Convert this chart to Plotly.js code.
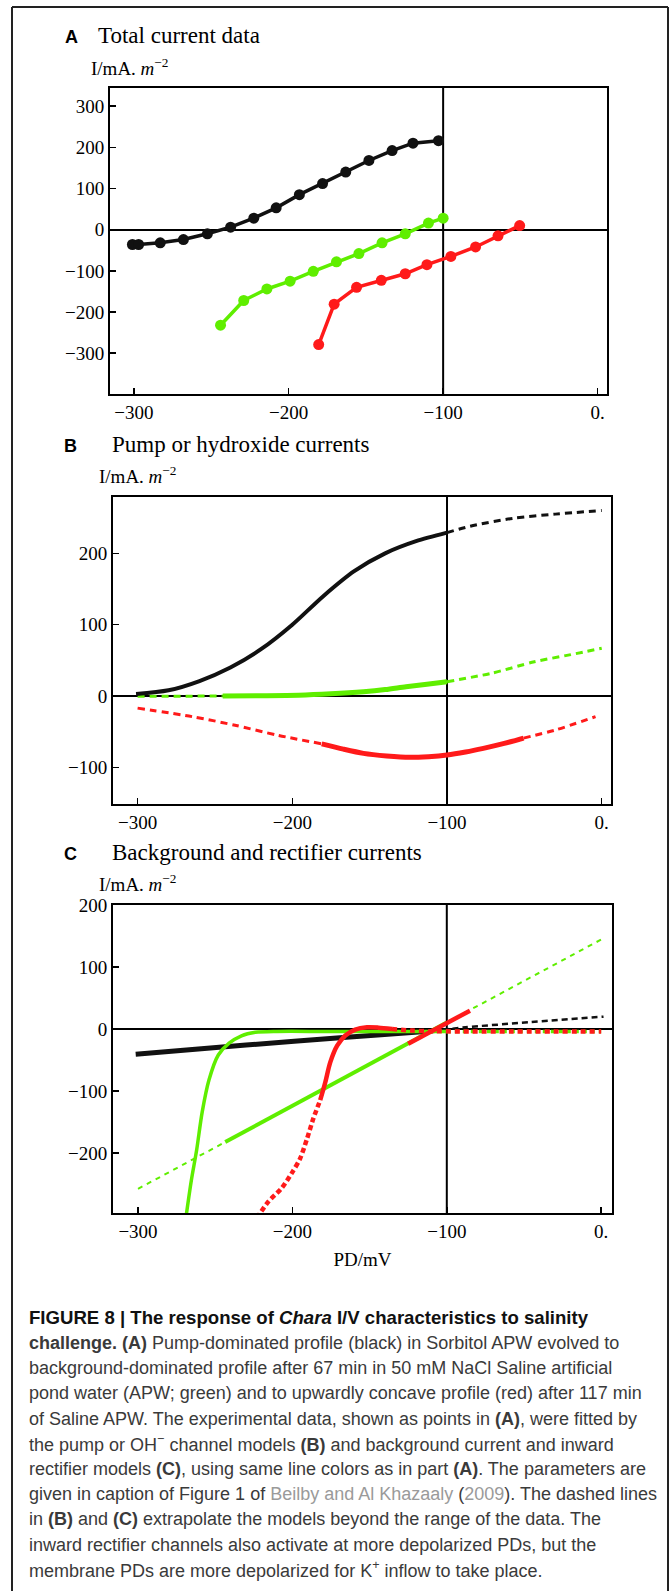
<!DOCTYPE html>
<html><head><meta charset="utf-8">
<script src="https://cdn.plot.ly/plotly-3.0.1.min.js"></script>
<style>html,body{margin:0;padding:0;background:#fff}</style>
</head><body><div id="chart" style="width:670px;height:1591px"></div>
<script>
// ---------------- data ----------------
const xTickVals = [-300, -200, -100, 0];
const xTickText = ['−300', '−200', '−100', '0.'];
const yTickValsA = [-300, -200, -100, 0, 100, 200, 300];
const yTickTextA = ['−300', '−200', '−100', '0', '100', '200', '300'];
const yTickValsB = [-100, 0, 100, 200];
const yTickTextB = ['−100', '0', '100', '200'];
const yTickValsC = [-200, -100, 0, 100, 200];
const yTickTextC = ['−200', '−100', '0', '100', '200'];
const refPD = -100;

// Panel A: total current data (PD in mV, I in mA m^-2)
const aBlackPD = [-301, -297, -283, -268, -252.5, -237.5, -222.5, -208, -193, -178, -163, -148, -133, -119.5, -103];
const aBlackI  = [-36, -36, -32, -24, -10, 6, 28, 53, 85, 112, 140, 168, 192, 210, 216];
const aGreenPD = [-244, -229, -214, -199, -184, -169, -154.5, -139.5, -124.5, -109.5, -100];
const aGreenI  = [-232, -172, -144, -125, -101, -78, -58, -32, -10, 16, 28];
const aRedPD   = [-180.5, -170.5, -156, -140, -124.5, -110.5, -95, -79, -64.5, -50.5];
const aRedI    = [-279, -181, -140, -123, -107, -85, -65, -42, -15, 10];

// Panel B: pump or hydroxide currents
const bBlackSolidPD = [-301, -280, -260, -240, -220, -200, -180, -160, -140, -120, -100];
const bBlackSolidI  = [2.8, 8, 21, 40, 66, 100, 140, 175, 200, 217, 229];
const bBlackDashPD  = [-100, -85, -57.5, -30, 0];
const bBlackDashI   = [229, 238, 249, 255, 260];
const bGreenDashLPD = [-300, -245];
const bGreenDashLI  = [-0.5, 0];
const bGreenSolidPD = [-245, -220, -196, -175, -154, -140, -126.5, -113, -100];
const bGreenSolidI  = [0, 0.3, 1, 3, 6, 9, 13, 16.5, 20];
const bGreenDashRPD = [-100, -71, -43.5, -20, 0];
const bGreenDashRI  = [20, 32, 48, 58, 67];
const bRedDashLPD   = [-300, -264.5, -237, -209.5, -181];
const bRedDashLI    = [-17, -29, -41, -55, -67];
const bRedSolidPD   = [-181, -167, -154, -139, -124, -112, -100, -88, -76.5, -63, -50.5];
const bRedSolidI    = [-67, -74.5, -80.4, -84, -86, -85, -82.7, -78.5, -73.4, -66.5, -59];
const bRedDashRPD   = [-50.5, -30, -4];
const bRedDashRI    = [-59, -47.7, -29];

// Panel C: background and rectifier currents
const cBlackSolidPD = [-301.5, -230, -165, -114, -103];
const cBlackSolidI  = [-41, -26, -13.5, -4.3, -1.5];
const cBlackDashPD  = [-103, -88, -47, 1.5];
const cBlackDashI   = [-1.5, 2.7, 10.7, 19.8];
const cGreenBgDashLPD = [-300, -243.5];
const cGreenBgDashLI  = [-258, -182.5];
const cGreenBgSolidPD = [-243.5, -100];
const cGreenBgSolidI  = [-182.5, 10.5];
const cGreenBgDashRPD = [-100, 2];
const cGreenBgDashRI  = [10.5, 147];
const cRedBgSolidPD = [-125, -85];
const cRedBgSolidI  = [-24, 29.5];
const cGreenRectSolidPD = [-269, -265.5, -262, -258.5, -254, -248, -241, -233, -224, -210, -180, -150, -100];
const cGreenRectSolidI  = [-305, -245, -195, -135, -82, -42, -23, -11, -5.5, -4, -4, -4, -4];
const cGreenRectDashPD  = [-100, 0];
const cGreenRectDashI   = [-4, -4];
const cRedRectDashLPD = [-223, -215.5, -207, -200.5, -195, -190.5, -186.5, -182];
const cRedRectDashLI  = [-305, -278.5, -257, -233, -209, -177, -145, -115];
const cRedRectSolidPD = [-182, -178.7, -175.5, -171, -165.7, -159.3, -151.7, -144.2, -135.5];
const cRedRectSolidI  = [-115, -86, -54, -27, -10.7, -1, 2.7, 2.1, 0];
const cRedRectDashRPD = [-135.5, -122.6, -109.6, -90, 0];
const cRedRectDashRI  = [0, -2.7, -3.7, -4, -4];

// Caption lines
const captionLines = [
  "<b>FIGURE 8 | The response of <i>Chara</i> I/V characteristics to salinity</b>",
  "<b>challenge. (A)</b> Pump-dominated profile (black) in Sorbitol APW evolved to",
  "background-dominated profile after 67 min in 50 mM NaCl Saline artificial",
  "pond water (APW; green) and to upwardly concave profile (red) after 117 min",
  "of Saline APW. The experimental data, shown as points in <b>(A)</b>, were fitted by",
  "the pump or OH<sup>−</sup> channel models <b>(B)</b> and background current and inward",
  "rectifier models <b>(C)</b>, using same line colors as in part <b>(A)</b>. The parameters are",
  "given in caption of Figure 1 of <span style='color:#9a9a9a'>Beilby and Al Khazaaly</span> (<span style='color:#9a9a9a'>2009</span>). The dashed lines",
  "in <b>(B)</b> and <b>(C)</b> extrapolate the models beyond the range of the data. The",
  "inward rectifier channels also activate at more depolarized PDs, but the",
  "membrane PDs are more depolarized for K<sup>+</sup> inflow to take place."
];
const panelLetters = ['A', 'B', 'C'];
const panelTitles = ['Total current data', 'Pump or hydroxide currents', 'Background and rectifier currents'];
const yAxisLabel = 'I/mA. <i>m</i><sup>−2</sup>';
const xAxisLabel = 'PD/mV';

// ---------------- styling / layout ----------------
const W = 670, H = 1591;
const px = v => v / W;
const py = v => 1 - v / H;
const BLACK = '#111111', GREEN = '#5fee00', RED = '#ff1a1a';
const SERIF = 'Liberation Serif, Times New Roman, serif';
const SANS = 'Liberation Sans, Arial, Helvetica, sans-serif';

function xAxis(l, r, range, anchor) {
  return {
    domain: [px(l), px(r)], range: range, anchor: anchor,
    showline: true, mirror: true, linecolor: '#000', linewidth: 2,
    showgrid: false, zeroline: false,
    ticks: 'inside', ticklen: 6, tickwidth: 1.5, tickcolor: '#000',
    tickmode: 'array', tickvals: xTickVals, ticktext: xTickText,
    tickfont: {family: SERIF, size: 19, color: '#000'}
  };
}
function yAxis(t, b, range, anchor, vals, text) {
  return {
    domain: [py(b), py(t)], range: range, anchor: anchor,
    showline: true, mirror: true, linecolor: '#000', linewidth: 2,
    showgrid: false, zeroline: true, zerolinecolor: '#000', zerolinewidth: 2,
    ticks: 'inside', ticklen: 6, tickwidth: 1.5, tickcolor: '#000',
    tickmode: 'array', tickvals: vals, ticktext: text,
    tickfont: {family: SERIF, size: 19, color: '#000'}
  };
}

function seg(x, y, xa, ya, color, width, dash, shape) {
  return {x: x, y: y, xaxis: xa, yaxis: ya, type: 'scatter', mode: 'lines',
    line: {color: color, width: width, dash: dash || 'solid', shape: shape || 'spline', smoothing: 0.8},
    hoverinfo: 'skip'};
}
function pts(x, y, color) {
  return {x: x, y: y, xaxis: 'x', yaxis: 'y', type: 'scatter', mode: 'lines+markers',
    line: {color: color, width: 3.5}, marker: {color: color, size: 11}, hoverinfo: 'skip'};
}

const DB = '7px,5px';
const traces = [
  // A
  pts(aBlackPD, aBlackI, BLACK),
  pts(aGreenPD, aGreenI, GREEN),
  pts(aRedPD, aRedI, RED),
  // B
  seg(bGreenDashLPD, bGreenDashLI, 'x2', 'y2', GREEN, 3, DB, 'linear'),
  seg(bBlackSolidPD, bBlackSolidI, 'x2', 'y2', BLACK, 4),
  seg(bBlackDashPD, bBlackDashI, 'x2', 'y2', BLACK, 3, DB),
  seg(bGreenSolidPD, bGreenSolidI, 'x2', 'y2', GREEN, 5),
  seg(bGreenDashRPD, bGreenDashRI, 'x2', 'y2', GREEN, 3, DB),
  seg(bRedDashLPD, bRedDashLI, 'x2', 'y2', RED, 3, DB),
  seg(bRedSolidPD, bRedSolidI, 'x2', 'y2', RED, 5),
  seg(bRedDashRPD, bRedDashRI, 'x2', 'y2', RED, 3, DB),
  // C
  seg(cGreenBgDashLPD, cGreenBgDashLI, 'x3', 'y3', GREEN, 2, '5px,5px', 'linear'),
  seg(cGreenBgSolidPD, cGreenBgSolidI, 'x3', 'y3', GREEN, 4, 'solid', 'linear'),
  seg(cGreenBgDashRPD, cGreenBgDashRI, 'x3', 'y3', GREEN, 2, '5px,5px', 'linear'),
  seg(cBlackSolidPD, cBlackSolidI, 'x3', 'y3', BLACK, 5),
  seg(cBlackDashPD, cBlackDashI, 'x3', 'y3', BLACK, 2.5, '6px,4px'),
  seg(cGreenRectSolidPD, cGreenRectSolidI, 'x3', 'y3', GREEN, 3.5),
  seg(cGreenRectDashPD, cGreenRectDashI, 'x3', 'y3', GREEN, 3.5, '4px,4px', 'linear'),
  seg(cRedBgSolidPD, cRedBgSolidI, 'x3', 'y3', RED, 4.5, 'solid', 'linear'),
  seg(cRedRectDashLPD, cRedRectDashLI, 'x3', 'y3', RED, 4.5, '5px,3px'),
  seg(cRedRectSolidPD, cRedRectSolidI, 'x3', 'y3', RED, 4.5),
  seg(cRedRectDashRPD, cRedRectDashRI, 'x3', 'y3', RED, 4.5, '5px,4px')
];

// panel geometry in pixels: [left, right, top, bottom]
const geo = [[110, 607, 88, 394], [113, 611, 497, 804], [113, 612, 905, 1213]];
const titleBase = [43, 452, 860];
const letterX = [63, 62, 62];
const titleX = [96, 110, 110];
const ylabX = [89, 97, 97];
const ylabBase = [72, 480, 888];

const annotations = [];
for (let i = 0; i < 3; i++) {
  annotations.push({text: '<b>' + panelLetters[i] + '</b>', x: px(letterX[i]), y: py(titleBase[i] - 6.3),
    xref: 'paper', yref: 'paper', xanchor: 'left', yanchor: 'middle', showarrow: false,
    font: {family: SANS, size: 18, color: '#000'}});
  annotations.push({text: panelTitles[i], x: px(titleX[i]), y: py(titleBase[i] - 7.8),
    xref: 'paper', yref: 'paper', xanchor: 'left', yanchor: 'middle', showarrow: false,
    font: {family: SERIF, size: 23, color: '#000'}});
  annotations.push({text: yAxisLabel, x: px(ylabX[i]), y: py(ylabBase[i] - 5),
    xref: 'paper', yref: 'paper', xanchor: 'left', yanchor: 'middle', showarrow: false,
    font: {family: SERIF, size: 19, color: '#000'}});
}
const capTop = 1324, capStep = 25.2;
captionLines.forEach((t, k) => {
  annotations.push({text: t, x: px(27), y: py(capTop + k * capStep - 6.2),
    xref: 'paper', yref: 'paper', xanchor: 'left', yanchor: 'middle', showarrow: false,
    font: {family: SANS, size: k === 0 ? 18.6 : 18, color: k === 0 ? '#111' : '#3a3a3a'}});
});

const shapes = [
  {type: 'line', xref: 'paper', yref: 'paper', x0: px(12), x1: px(12), y0: 0, y1: py(7), line: {color: '#222', width: 2}},
  {type: 'line', xref: 'paper', yref: 'paper', x0: px(12), x1: px(668), y0: py(7), y1: py(7), line: {color: '#222', width: 2}},
  {type: 'line', xref: 'paper', yref: 'paper', x0: px(668), x1: px(668), y0: 0, y1: py(7), line: {color: '#222', width: 2}}
];
['x', 'x2', 'x3'].forEach((xa, i) => {
  shapes.push({type: 'line', xref: xa, x0: refPD, x1: refPD, yref: (i === 0 ? 'y' : 'y' + (i + 1)) + ' domain',
    y0: 0, y1: 1, layer: 'below', line: {color: '#000', width: 2}});
});

const xa3 = xAxis(geo[2][0], geo[2][1], [-316.2, 7], 'y3');
xa3.title = {text: xAxisLabel, font: {family: SERIF, size: 19, color: '#000'}, standoff: 12};

const layout = {
  width: W, height: H, margin: {l: 0, r: 0, t: 0, b: 0},
  paper_bgcolor: '#fff', plot_bgcolor: 'rgba(0,0,0,0)', showlegend: false,
  xaxis: xAxis(geo[0][0], geo[0][1], [-315.5, 6], 'y'),
  yaxis: yAxis(geo[0][2], geo[0][3], [-399, 344], 'x', yTickValsA, yTickTextA),
  xaxis2: xAxis(geo[1][0], geo[1][1], [-315.9, 6], 'y2'),
  yaxis2: yAxis(geo[1][2], geo[1][3], [-151.4, 279], 'x2', yTickValsB, yTickTextB),
  xaxis3: xa3,
  yaxis3: yAxis(geo[2][2], geo[2][3], [-297, 200], 'x3', yTickValsC, yTickTextC),
  annotations: annotations, shapes: shapes
};

Plotly.newPlot('chart', traces, layout, {staticPlot: true, displayModeBar: false});
</script></body></html>
